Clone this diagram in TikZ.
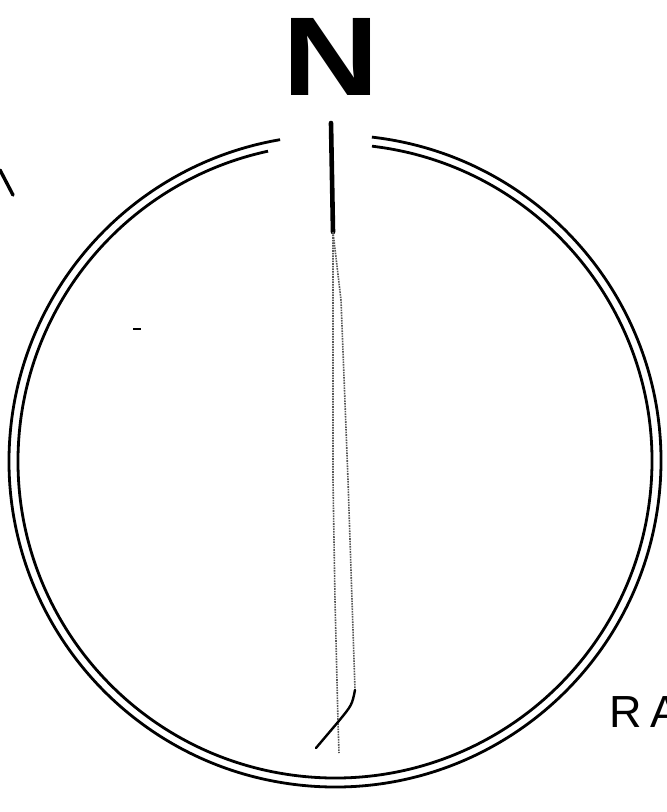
\documentclass[tikz,border=0pt]{standalone}
\usepackage{fontspec}
\setmainfont{Liberation Sans}
\usetikzlibrary{calc}

\begin{document}
\begin{tikzpicture}[
  x=1pt, y=-1pt,
  ring/.style={draw=black, line width=2.8pt},
  needle/.style={draw=black, line width=4.6pt, line cap=round},
  trace/.style={draw=black!65, line width=1.6pt, densely dotted},
  stroke/.style={draw=black, line width=3.4pt, line cap=round},
  pole/.style={font=\bfseries\fontsize{112}{112}\selectfont, inner sep=0pt, anchor=base, xscale=1.2},
  cornerlabel/.style={font=\fontsize{45}{45}\selectfont, inner sep=0pt, anchor=base west}
]
  \fill[white] (0,0) rectangle (667,812);
  \useasboundingbox (0,0) rectangle (667,812);

  % double ring, open at the top
  \coordinate (c) at (335,461);
  \draw[ring] ($(c)+(-83.5:326)$) arc[start angle=-83.5, end angle=260.3, radius=326];
  \draw[ring] ($(c)+(-83.3:317)$) arc[start angle=-83.3, end angle=257.8, radius=317];

  % needle and its two faint traces
  \coordinate (top) at (331,123);
  \coordinate (split) at (333,232);
  \coordinate (cross) at (338,722);
  \draw[needle] (top) -- (split);
  \draw[trace] (split) -- (333,480) -- (335,600) -- (cross) -- (339,753);
  \draw[trace] (split) -- (341,300) -- (348,480) -- (352,600) -- (355,690);
  \draw[stroke, line width=2.4pt] (355,690) .. controls (352,705) .. (cross) -- (316,748);

  % labels
  \node[pole] (north) at (331,95) {N};
  \node[cornerlabel] (ra) at (609,727) {R\kern9pt A};

  % stray marks
  \draw[stroke] (0,170) -- (13,195);
  \draw[stroke, line width=2pt, line cap=butt] (133,329) -- (141,329);
\end{tikzpicture}
\end{document}
